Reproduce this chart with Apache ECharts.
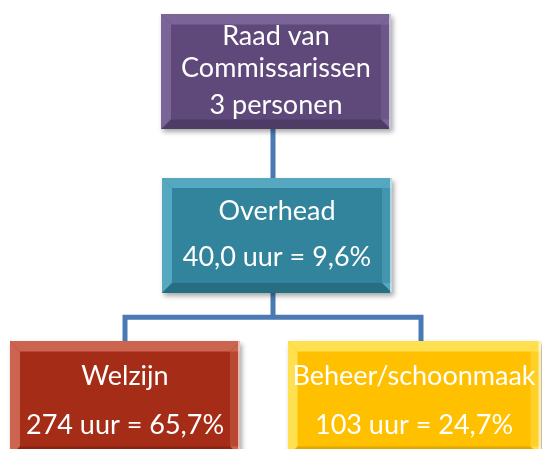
<!DOCTYPE html>
<html>
<head>
<meta charset="utf-8">
<script src="https://cdn.jsdelivr.net/npm/echarts@6/dist/echarts.min.js"></script>
<style>
  html, body { margin: 0; padding: 0; background: #fff; }
  #org { width: 542px; height: 449px; }
</style>
</head>
<body>
<div id="org"></div>
<script>
// node texts
var titles = ['Raad van\nCommissarissen', 'Overhead', 'Welzijn', 'Beheer/schoonmaak'];
var values = ['3 personen', '40,0 uur = 9,6%', '274 uur = 65,7%', '103 uur = 24,7%'];
// parent index of each node (-1 = root)
var parents = [-1, 0, 1, 1];

var fills = ['#5f497a', '#31849b', '#a52c16', '#ffc000'];
var lights = ['#7b6598', '#55a8bf', '#cc6550', '#ffe050'];
var darks = ['#4e3c66', '#266f83', '#8a2311', '#e0a800'];
var boxSizes = [[230, 115], [230, 115], [230, 115], [253, 115]];
var boxOffsets = [[3, 0], [4, 0], [0, 0], [-7, 0]];
var valueGap = [42, 60, 66, 66];
var textShift = [1, 6, 10, 10];

// bevelled box drawn on a canvas, used as the node symbol
function bevel(i) {
    var w = boxSizes[i][0], h = boxSizes[i][1], b = 10;
    var c = document.createElement('canvas');
    c.width = w; c.height = h;
    var g = c.getContext('2d');
    g.fillStyle = fills[i];
    g.fillRect(0, 0, w, h);
    function poly(pts, col) {
        g.beginPath();
        g.moveTo(pts[0], pts[1]);
        for (var k = 2; k < pts.length; k += 2) g.lineTo(pts[k], pts[k + 1]);
        g.closePath();
        g.fillStyle = col;
        g.fill();
    }
    poly([0, 0, w, 0, w - b, b, b, b], lights[i]);
    poly([0, 0, b, b, b, h - b, 0, h], lights[i]);
    poly([w, 0, w, h, w - b, h - b, w - b, b], lights[i]);
    poly([0, h, b, h - b, w - b, h - b, w, h], darks[i]);
    g.globalAlpha = 0.5;
    g.fillStyle = fills[i];
    g.fillRect(w - b, b, b, h - 2 * b);
    g.globalAlpha = 0.6;
    g.fillStyle = '#ffffff';
    g.fillRect(w - 2, 0, 2, h);
    return 'image://' + c.toDataURL();
}

var nodes = titles.map(function (t, i) {
    var lines = t.split('\n').map(function (s) { return '{t|' + s + '}'; }).join('\n');
    return {
        name: t,
        value: values[i],
        symbol: bevel(i),
        symbolSize: boxSizes[i],
        symbolOffset: boxOffsets[i],
        itemStyle: {
            shadowBlur: 5,
            shadowOffsetX: 2,
            shadowOffsetY: 3,
            shadowColor: 'rgba(0,0,0,0.35)'
        },
        label: {
            offset: [0, textShift[i]],
            formatter: lines + '\n{v|' + values[i] + '}',
            rich: {
                t: { fontSize: 27, lineHeight: 32, color: '#fff', fontFamily: 'Lato' },
                v: { fontSize: 27, lineHeight: valueGap[i], color: '#fff', fontFamily: 'Lato' }
            }
        },
        children: []
    };
});
nodes.forEach(function (n, i) {
    if (parents[i] >= 0) nodes[parents[i]].children.push(n);
});

var chart = echarts.init(document.getElementById('org'));
chart.setOption({
    animation: false,
    series: [{
        type: 'tree',
        orient: 'TB',
        data: [nodes[0]],
        left: -23,
        width: 592,
        top: 72,
        height: 327,
        expandAndCollapse: false,
        initialTreeDepth: -1,
        edgeShape: 'polyline',
        lineStyle: { color: '#4a7ab3', width: 5, curveness: 0 },
        label: { position: 'inside', align: 'center', verticalAlign: 'middle' },
        leaves: { label: { position: 'inside', align: 'center', verticalAlign: 'middle' } }
    }]
});
</script>
</body>
</html>
